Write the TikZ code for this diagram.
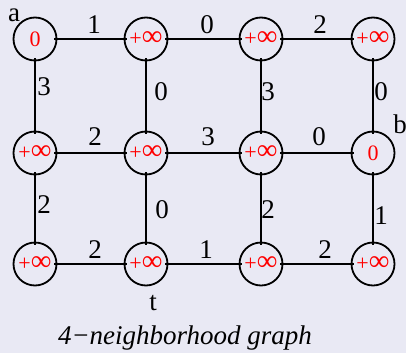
\documentclass[tikz,border=0pt]{standalone}
\usepackage{fontspec}
\setmainfont{Liberation Serif}
\newfontfamily\tms{Liberation Serif}
\definecolor{bg}{HTML}{E9E9F4}
\newcommand{\pinf}{+{\fontsize{29}{22}\selectfont ∞}}
\begin{document}
\begin{tikzpicture}[x=1pt,y=-1pt,
  v/.style={circle,draw,line width=1.8pt,minimum size=43pt,inner sep=0pt,text=red,font=\tms\fontsize{22}{22}\selectfont},
  lab/.style={inner sep=0pt,font=\tms\fontsize{27}{27}\selectfont},
  e/.style={line width=1.8pt,shorten >=-3pt,shorten <=-3pt}]
\fill[bg] (0,0) rectangle (406,353);
\useasboundingbox (0,0) rectangle (406,353);
\node[v] (n11) at (35,39) {0};
\node[v] (n12) at (146,39) {\pinf};
\node[v] (n13) at (261,39) {\pinf};
\node[v] (n14) at (373,39) {\pinf};
\node[v] (n21) at (35,153) {\pinf};
\node[v] (n22) at (146,153) {\pinf};
\node[v] (n23) at (261,153) {\pinf};
\node[v] (n24) at (373,153) {0};
\node[v] (n31) at (35,264) {\pinf};
\node[v] (n32) at (146,264) {\pinf};
\node[v] (n33) at (261,264) {\pinf};
\node[v] (n34) at (373,264) {\pinf};
% horizontal edges
\draw[e] (n11) -- (n12); \draw[e] (n12) -- (n13); \draw[e] (n13) -- (n14);
\draw[e] (n21) -- (n22); \draw[e] (n22) -- (n23); \draw[e] (n23) -- (n24);
\draw[e] (n31) -- (n32); \draw[e] (n32) -- (n33); \draw[e] (n33) -- (n34);
% vertical edges
\draw[e] (n11) -- (n21); \draw[e] (n12) -- (n22); \draw[e] (n13) -- (n23); \draw[e] (n14) -- (n24);
\draw[e] (n21) -- (n31); \draw[e] (n22) -- (n32); \draw[e] (n23) -- (n33); \draw[e] (n24) -- (n34);
% edge labels
\node[lab] (h11) at (94,25) {1};
\node[lab] (h12) at (207,25) {0};
\node[lab] (h13) at (320,25) {2};
\node[lab] (h21) at (95,137) {2};
\node[lab] (h22) at (208,137) {3};
\node[lab] (h23) at (319,137) {0};
\node[lab] (h31) at (95,250) {2};
\node[lab] (h32) at (206,250) {1};
\node[lab] (h33) at (325,250) {2};
\node[lab] (v11) at (44,87) {3};
\node[lab] (v12) at (161,92) {0};
\node[lab] (v13) at (268,92) {3};
\node[lab] (v14) at (381,92) {0};
\node[lab] (v21) at (44,205) {2};
\node[lab] (v22) at (162,210) {0};
\node[lab] (v23) at (268,210) {2};
\node[lab] (v24) at (381,216) {1};
% vertex names
\node[lab] (la) at (14,15) {a};
\node[lab] (lb) at (400,124) {b};
\node[lab] (lt) at (153,303) {t};
\node[inner sep=0pt,font=\tms\itshape\fontsize{27}{27}\selectfont] (cap) at (185,338) {4−neighborhood graph};
\end{tikzpicture}
\end{document}
